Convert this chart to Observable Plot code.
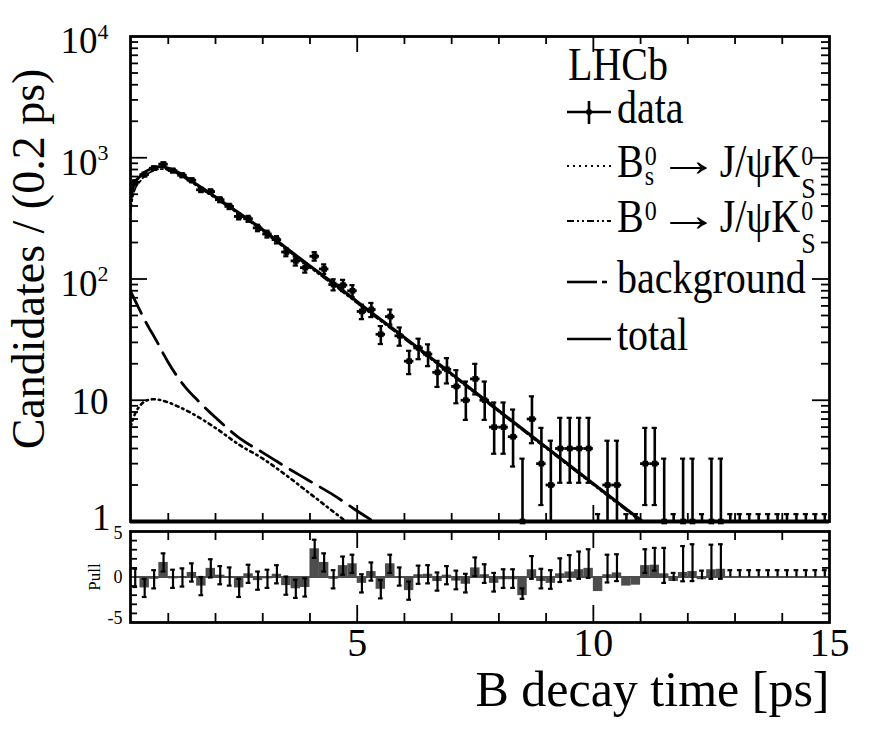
<!DOCTYPE html>
<html>
<head>
<meta charset="utf-8">
<script src="https://cdn.jsdelivr.net/npm/d3@7"></script>
<script src="https://cdn.jsdelivr.net/npm/@observablehq/plot@0.6"></script>
<style>
html,body{margin:0;padding:0;background:#fff;}
#wrap{position:relative;width:872px;height:750px;overflow:hidden;background:#fff;font-family:"Liberation Serif",serif;}
#wrap svg{position:absolute;left:0;}
</style>
</head>
<body>
<div id="wrap"></div>
<script>
// ---------------- data ----------------
const binCenters = [0.3,0.5,0.7,0.9,1.1,1.3,1.5,1.7,1.9,2.1,2.3,2.5,2.7,2.9,3.1,3.3,3.5,3.7,3.9,4.1,
  4.3,4.5,4.7,4.9,5.1,5.3,5.5,5.7,5.9,6.1,6.3,6.5,6.7,6.9,7.1,7.3,7.5,7.7,7.9,8.1,
  8.3,8.5,8.7,8.9,9.1,9.3,9.5,9.7,9.9,10.1,10.3,10.5,10.7,10.9,11.1,11.3,11.5,11.7,11.9,12.1,
  12.3,12.5,12.7,12.9,13.1,13.3,13.5,13.7,13.9,14.1,14.3,14.5,14.7,14.9];
const counts = [627,727,821,886,784,717,653,544,526,451,397,328,314,264,235,211,167,141,124,154,
  121,90,89,80,54,56,35,49,34,21,27,24,17,18,13,10,15,10,6,6,
  5,1,7,3,2,4,4,4,4,0,2,2,0,0,3,3,1,0,1,1,
  0,1,1,0,0,0,0,0,0,0,0,0,0,0];
const pulls = [-0.1,-1.2,-0.25,1.6,-0.2,-0.05,0.5,-1.0,0.95,0.2,
  0.05,-1.2,0.35,-0.4,-0.2,0.3,-0.95,-1.3,-1.15,3.1,
  1.6,-0.25,1.25,1.45,-0.7,0.6,-1.35,1.45,0.05,-1.5,
  0.25,0.3,-0.5,0.2,-0.45,-0.8,1.0,0.25,-0.7,-0.3,
  -0.3,-2.05,0.8,-0.5,-0.7,0.35,0.55,0.8,0.95,-1.6,
  0.25,0.45,-1.0,-0.9,1.25,1.3,0.35,-0.5,0.5,0.6,
  -0.3,0.8,0.85,0,0,0,0,0,0,0,0,0,0,0];
const pullErrLo = [1,1,1,1,1,1,1,1,1,1, 1,1,1,1,1,1,1,1,1,1, 1,1,1,1,1,1,1,1,1,1,
  1,1,1,1,0.9,0.9,0.9,0.9,0.9,0.9, 0.9,0.35,1.0,0.75,0.6,0.9,0.95,1.0,1.05,0,
  0.85,0.9,0,0,0.8,0.6,1.0,0,0.97,1.05, 0,1.0,1.05,0,0,0,0,0,0,0,0,0,0,0];
const pullErrHi = [1,1,1,1,1,1,1,1,1,1, 1,1,1,1,1,1,1,1,1,1, 1,1,1,1,1,1,1,1,1,1,
  1,1,1,1,1.15,1.15,1.15,1.15,1.15,1.15, 1.15,0.8,1.5,1.4,1.45,1.7,1.85,2.0,2.1,0,
  2.2,2.05,0,0,1.8,1.9,2.85,0.95,2.9,3.0, 1.0,2.75,2.75,0.75,0.75,0.75,0.75,0.75,0.75,0.75,0.75,0.75,0.75,0.75];

// fit curves
const totalT = [0.2,0.25,0.3,0.4,0.5,0.6,0.7,0.8,0.9,1.0,1.2,1.5,2.0,2.5,3.0,3.5,4.0,4.5,5.0,6.0,7.0,8.0,9.0,10.0,11.0,12.0];
const totalV = [440,560,630,700,760,800,828,842,840,820,760,640,475,350,255,180,128,92,65,33,16.5,8.2,4.1,2.05,1.03,0.52];
const b0V    = [354,480,556,636,704,751,784,803,806,790,736,621,462,341,248,175,124,89,63,32,16.1,8.0,4.0,2.0,1.0,0.5];
const bkgT = [0.2,0.3,0.4,0.5,0.6,0.7,0.8,0.9,1.0,1.2,1.4,1.6,1.8,2.0,2.5,3.0,3.5,4.0,4.5,5.0,5.5,6.0];
const bkgV = [80,66,55,46,39,33.5,28.5,24,20.5,15.5,12.3,10.2,8.5,7.2,4.9,3.7,2.8,2.15,1.65,1.22,0.92,0.7];
const bsT = [0.2,0.3,0.4,0.5,0.6,0.7,0.8,1.0,1.2,1.5,2.0,2.5,3.0,3.5,4.0,4.5,5.0];
const bsV = [6.0,7.8,9.0,9.8,10.1,10.2,10.1,9.6,8.9,7.8,5.9,4.3,3.3,2.4,1.7,1.2,0.85];

// axis tick labels
const yTickValues = [1,10,100,1000,10000];
const yTickText = ["1","10","10","10","10"];
const yTickExp = ["","","2","3","4"];
const xTickValues = [5,10,15];
const xTickText = ["5","10","15"];
const pullTickValues = [5,0,-5];
const pullTickText = ["5","0","-5"];
const yTitle = "Candidates / (0.2 ps)";
const xTitle = "B decay time [ps]";

// Poisson (68%) intervals for small counts
const poisLo = [0,0.173,0.708,1.367,2.086,2.840,3.620,4.419,5.232,6.057,6.891,7.734,8.585,9.441,10.30,11.17];
const poisHi = [1.15,3.300,4.638,5.918,7.163,8.382,9.584,10.77,11.95,13.11,14.27,15.42,16.56,17.70,18.83,19.96];

// ---------------- tables ----------------
const dataRows = binCenters.map((t,i)=>{
  const n = counts[i], small = n < poisLo.length;
  return {t, n, lo: small ? Math.max(poisLo[n],0.02) : n - Math.sqrt(n), hi: small ? poisHi[n] : n + Math.sqrt(n)};
});
const nonzero = dataRows.filter(d=>d.n>0);
const totalRows = totalT.map((t,i)=>({t, v: totalV[i]}));
const b0Rows = totalT.map((t,i)=>({t, v: b0V[i]}));
const bkgRows = bkgT.map((t,i)=>({t, v: bkgV[i]}));
const bsRows = bsT.map((t,i)=>({t, v: bsV[i]}));
const pullRows = binCenters.map((t,i)=>({t, p: pulls[i], lo: pullErrLo[i], hi: pullErrHi[i]}));
const yTicks = yTickValues.map((v,i)=>({v, base: yTickText[i], exp: yTickExp[i]}));

const xMinor = d3.range(1,15).filter(v=>v%5!==0);
const xMajor = [5,10];
const yMinor = [];
[1,10,100,1000].forEach(k=>{ for (let m=2;m<=9;m++) yMinor.push(m*k); });
const yMajor = [10,100,1000];
const pMinor = [-4,-3,-2,-1,1,2,3,4];

// ---------------- layout ----------------
const W = 872, ML = 130, MR = 43;
const FW = W - ML - MR;
const H1 = 540, MT1 = 36, MB1 = 19, FH1 = H1 - MT1 - MB1;
const H2 = 226, MT2 = 7, MB2 = 128, FH2 = H2 - MT2 - MB2;
const SY = 1.17;
const FONT = "Liberation Serif";

const main = Plot.plot({
  width: W, height: H1, marginLeft: ML, marginRight: MR, marginTop: MT1, marginBottom: MB1,
  x: {domain: [0.2, 15], axis: null},
  y: {type: "log", domain: [1, 1e4], axis: null},
  style: {fontFamily: FONT, background: "transparent", color: "black", overflow: "visible"},
  marks: [
    Plot.line(bkgRows, {x: "t", y: "v", stroke: "black", strokeWidth: 2.8, strokeDasharray: "25,10", curve: "monotone-x", clip: true}),
    Plot.line(bsRows, {x: "t", y: "v", stroke: "black", strokeWidth: 2.6, strokeDasharray: "3,4,1.5,4", curve: "monotone-x", clip: true}),
    Plot.line(b0Rows, {x: "t", y: "v", stroke: "black", strokeWidth: 1.8, strokeDasharray: "8,3,2,3,2,3", curve: "monotone-x", clip: true}),
    Plot.line(totalRows, {x: "t", y: "v", stroke: "black", strokeWidth: 3, curve: "monotone-x", clip: true}),
    // data points
    Plot.ruleY(nonzero, {y: "n", x1: d=>d.t-0.1, x2: d=>d.t+0.1, strokeWidth: 2.8, clip: true}),
    Plot.ruleX(dataRows, {x: "t", y1: "lo", y2: "hi", strokeWidth: 2.6, clip: true}),
    Plot.ruleY(dataRows, {y: "hi", x1: d=>d.t-0.055, x2: d=>d.t+0.055, strokeWidth: 2.2}),
    Plot.ruleY(dataRows.filter(d=>d.lo>=1.05), {y: "lo", x1: d=>d.t-0.055, x2: d=>d.t+0.055, strokeWidth: 2.2}),
    Plot.dot(nonzero, {x: "t", y: "n", symbol: "square", r: 3.2, fill: "black"}),
    // ticks
    Plot.ruleX(xMinor, {x: d=>d, insetTop: FH1-8, strokeWidth: 1.8}),
    Plot.ruleX(xMinor, {x: d=>d, insetBottom: FH1-8, strokeWidth: 1.8}),
    Plot.ruleX(xMajor, {x: d=>d, insetTop: FH1-16, strokeWidth: 1.8}),
    Plot.ruleX(xMajor, {x: d=>d, insetBottom: FH1-16, strokeWidth: 1.8}),
    Plot.ruleY(yMinor, {y: d=>d, insetRight: FW-8, strokeWidth: 1.8}),
    Plot.ruleY(yMinor, {y: d=>d, insetLeft: FW-8, strokeWidth: 1.8}),
    Plot.ruleY(yMajor, {y: d=>d, insetRight: FW-17, strokeWidth: 1.8}),
    Plot.ruleY(yMajor, {y: d=>d, insetLeft: FW-17, strokeWidth: 1.8}),
    Plot.frame({stroke: "black", strokeWidth: 2.8}),
    Plot.ruleY([1], {y: d=>d, strokeWidth: 4}),
    // y tick labels
    Plot.text([yTicks[0]], {y: "v", text: "base", frameAnchor: "left", dx: -20, dy: -3, textAnchor: "end", fontSize: 37, ariaLabel: "stretch-h"}),
    Plot.text([yTicks[1]], {y: "v", text: "base", frameAnchor: "left", dx: -22, dy: 2, textAnchor: "end", fontSize: 37, ariaLabel: "stretch-h"}),
    Plot.text(yTicks.slice(2), {y: "v", text: "base", frameAnchor: "left", dx: -33, dy: 5, textAnchor: "end", fontSize: 37, ariaLabel: "stretch-h"}),
    Plot.text(yTicks.slice(2), {y: "v", text: "exp", frameAnchor: "left", dx: -33, dy: -5, textAnchor: "start", fontSize: 22, ariaLabel: "stretch-h"}),
    // y axis title
    Plot.text([yTitle], {text: d=>d, frameAnchor: "left", rotate: -90, dx: -101, dy: -20, textAnchor: "middle", fontSize: 46, ariaLabel: "ytitle"})
  ]
});
main.style.top = "0px";

const pull = Plot.plot({
  width: W, height: H2, marginLeft: ML, marginRight: MR, marginTop: MT2, marginBottom: MB2,
  x: {domain: [0.2, 15], axis: null},
  y: {domain: [-5, 5], axis: null},
  style: {fontFamily: FONT, background: "transparent", color: "black", overflow: "visible"},
  marks: [
    Plot.rect(pullRows, {x1: d=>d.t-0.1, x2: d=>d.t+0.1, y1: 0, y2: "p", fill: "#4d4d4d"}),
    Plot.ruleY([0], {y: d=>d, stroke: "#4d4d4d", strokeWidth: 2}),
    Plot.ruleX(pullRows.filter(d=>d.lo>0||d.hi>0), {x: "t", y1: d=>d.p-d.lo, y2: d=>d.p+d.hi, strokeWidth: 2.2}),
    Plot.ruleY(pullRows.filter(d=>d.hi>0), {y: d=>d.p+d.hi, x1: d=>d.t-0.05, x2: d=>d.t+0.05, strokeWidth: 2.2}),
    Plot.ruleY(pullRows.filter(d=>d.lo>0), {y: d=>d.p-d.lo, x1: d=>d.t-0.05, x2: d=>d.t+0.05, strokeWidth: 2.2}),
    // ticks
    Plot.ruleX(xMinor, {x: d=>d, insetTop: FH2-9, strokeWidth: 1.8}),
    Plot.ruleX(xMinor, {x: d=>d, insetBottom: FH2-9, strokeWidth: 1.8}),
    Plot.ruleX(xMajor, {x: d=>d, insetTop: FH2-17, strokeWidth: 1.8}),
    Plot.ruleX(xMajor, {x: d=>d, insetBottom: FH2-17, strokeWidth: 1.8}),
    Plot.ruleY(pMinor, {y: d=>d, insetRight: FW-7, strokeWidth: 1.8}),
    Plot.ruleY(pMinor, {y: d=>d, insetLeft: FW-7, strokeWidth: 1.8}),
    Plot.frame({stroke: "black", strokeWidth: 2.8}),
    // pull tick labels
    Plot.text([pullTickValues[0]], {y: d=>d, text: ()=>pullTickText[0], frameAnchor: "left", dx: -8, dy: 2, textAnchor: "end", fontSize: 18, ariaLabel: "stretch-h"}),
    Plot.text([pullTickValues[1]], {y: d=>d, text: ()=>pullTickText[1], frameAnchor: "left", dx: -8, dy: 0, textAnchor: "end", fontSize: 18, ariaLabel: "stretch-h"}),
    Plot.text([pullTickValues[2]], {y: d=>d, text: ()=>pullTickText[2], frameAnchor: "left", dx: -8, dy: -4, textAnchor: "end", fontSize: 18, ariaLabel: "stretch-h"}),
    Plot.text(["Pull"], {text: d=>d, frameAnchor: "left", rotate: -90, dx: -36, dy: 0, textAnchor: "middle", fontSize: 17, ariaLabel: "stretch-v"}),
    // x tick labels + title
    Plot.text(xTickValues, {x: d=>d, text: (d,i)=>xTickText[i], frameAnchor: "bottom", dy: 33, textAnchor: "middle", fontSize: 40, ariaLabel: "stretch-h"}),
    Plot.text([xTitle], {text: d=>d, frameAnchor: "bottom-right", dy: 83, textAnchor: "end", fontSize: 50, ariaLabel: "xtitle"})
  ]
});
pull.style.top = (H1 - 16) + "px";

const wrap = document.getElementById("wrap");
wrap.appendChild(main);
wrap.appendChild(pull);

function stretch(svg) {
  const sel = d3.select(svg);
  sel.selectAll('g[aria-label="stretch-h"] text').each(function(){
    this.setAttribute("transform", (this.getAttribute("transform") || "") + ` scale(1,${SY})`);
  });
  sel.selectAll('g[aria-label="stretch-v"] text').each(function(){
    this.setAttribute("transform", (this.getAttribute("transform") || "") + ` scale(${SY},1)`);
  });
  sel.selectAll('g[aria-label="ytitle"] text').each(function(){
    this.setAttribute("textLength", 450);
    this.setAttribute("lengthAdjust", "spacingAndGlyphs");
  });
  sel.selectAll('g[aria-label="xtitle"] text').each(function(){
    this.setAttribute("transform", (this.getAttribute("transform") || "") + ` scale(1,${SY})`);
    this.setAttribute("textLength", 355);
    this.setAttribute("lengthAdjust", "spacingAndGlyphs");
  });
}
stretch(main); stretch(pull);

// ---------------- legend ----------------
const legendTitle = "LHCb";
const legendLabels = ["data", "background", "total"];
const leg = d3.select(wrap).append("svg").attr("width", W).attr("height", H1)
  .style("top", "0px").style("left", "0px").style("position", "absolute");
function newText(x, y, size, sx = 1) {
  return leg.append("text").attr("transform", `translate(${x},${y}) scale(${sx},${SY})`)
    .attr("font-family", FONT).attr("font-size", size).attr("fill", "black");
}
function txt(str, x, y, size, sx = 1) {
  const t = newText(x, y, size, sx).text(str);
  return t.node().getComputedTextLength() * sx;
}
// text with stacked superscript/subscript at its end
function scripted(base, sup, sub, x, y, supDy, subDy, subSize) {
  const t = newText(x, y, 40);
  t.append("tspan").text(base);
  const s1 = t.append("tspan").attr("font-size", 24).attr("dx", 1).attr("dy", supDy / SY).text(sup);
  const w = s1.node().getComputedTextLength();
  if (sub) t.append("tspan").attr("font-size", subSize).attr("dx", -w).attr("dy", (subDy - supDy) / SY).text(sub);
  const bb = t.node().getBBox();
  return bb.x + bb.width;
}
function seg(x1, x2, y1, y2, dash, w) {
  leg.append("line").attr("x1", x1).attr("x2", x2).attr("y1", y1).attr("y2", y2)
    .attr("stroke", "black").attr("stroke-width", w).attr("stroke-dasharray", dash || null);
}
const LX = 617;
txt(legendTitle, 568, 80, 40);
// data
seg(567, 611, 112, 112, null, 2.6);
seg(589, 589, 101, 124, null, 2.6);
leg.append("circle").attr("cx", 589).attr("cy", 112).attr("r", 3).attr("fill", "black");
txt(legendLabels[0], LX, 123, 40);
// decays
function decay(y, sub1) {
  let x = LX;
  x += scripted("B", "0", sub1, x, y, -12, 8, 24) + 1;
  x += txt("\u2192", x, y - 1, 40, 1.55);
  scripted(" J/\u03C8K", "0", "S", x, y, -12, 21, 26);
}
seg(567, 611, 166, 166, "2,4", 2);
decay(177, "s");
seg(567, 611, 221, 221, "7,3,2,3,2,3", 2);
decay(232, null);
// background
seg(567, 597, 282, 282, null, 2.6);
seg(602, 607, 282, 282, null, 2.6);
txt(legendLabels[1], LX, 293, 40);
// total
seg(567, 611, 339, 339, null, 2.6);
txt(legendLabels[2], LX, 350, 40);
</script>
</body>
</html>
